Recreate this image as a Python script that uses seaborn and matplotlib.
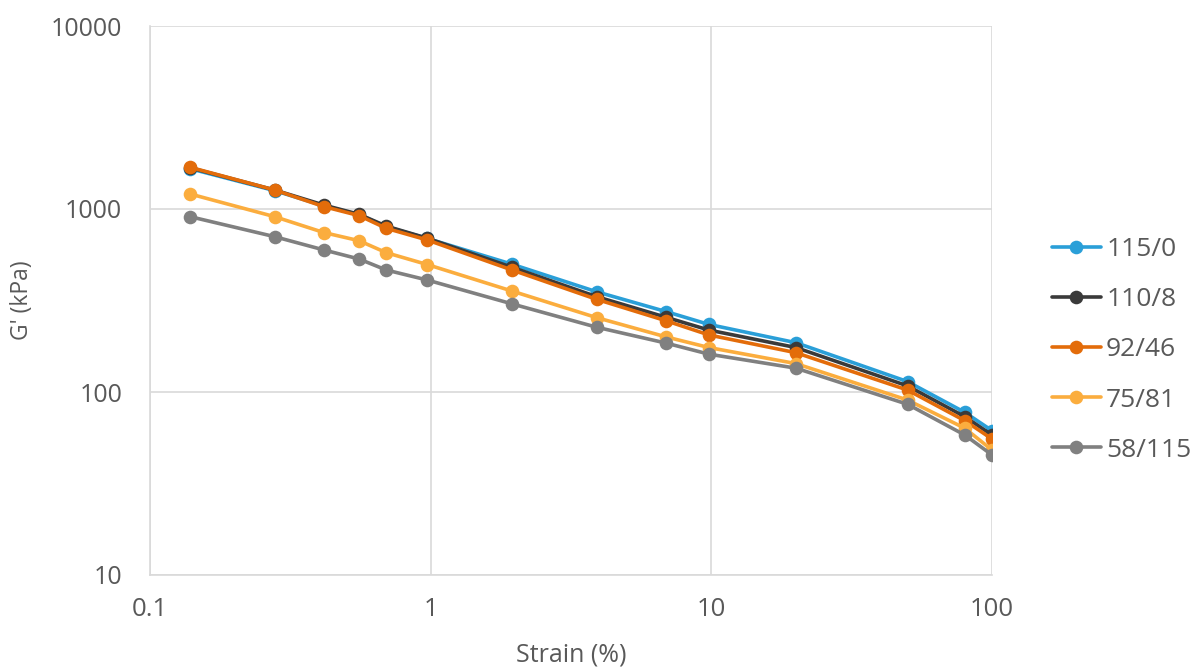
import numpy as np
import pandas as pd
import matplotlib
matplotlib.use("Agg")
import matplotlib.pyplot as plt
import matplotlib.ticker as mticker
import seaborn as sns

strain = [0.139, 0.278, 0.417, 0.556, 0.695, 0.973, 1.95, 3.9, 6.9, 9.8, 20, 50, 80, 100]

g_115_0 = [1660, 1260, 1040, 930, 800, 690, 499, 353, 275, 234, 186, 114, 77.4, 61.5]
g_110_8 = [1680, 1270, 1050, 935, 806, 692, 480, 332, 256, 218, 175, 108, 73.3, 58.2]
g_92_46 = [1690, 1270, 1030, 920, 784, 677, 464, 321, 245, 205, 164, 102.5, 69.7, 55.4]
g_75_81 = [1208, 908, 743, 671, 577, 497, 356, 255, 200, 175, 143, 90.4, 63.4, 48.2]
g_58_115 = [908, 706, 597, 533, 464, 409, 303, 226, 185, 161, 135, 85.7, 58.2, 45.3]

series_names = ["115/0", "110/8", "92/46", "75/81", "58/115"]
series_values = [g_115_0, g_110_8, g_92_46, g_75_81, g_58_115]
colors = ["#2A9FD8", "#3A3A3A", "#E36C0A", "#FBAD3E", "#808080"]

x_ticks = [0.1, 1, 10, 100]
x_tick_labels = ["0.1", "1", "10", "100"]
y_ticks = [10, 100, 1000, 10000]
y_tick_labels = ["10", "100", "1000", "10000"]

df = pd.DataFrame({
    "Strain": np.tile(strain, len(series_names)),
    "G": np.concatenate(series_values),
    "Series": np.repeat(series_names, len(strain)),
})

sns.set_style("white")
plt.rcParams["font.family"] = ["Open Sans", "DejaVu Sans"]
text_color = "#595959"
grid_color = "#D9D9D9"

fig = plt.figure(figsize=(11.94, 6.71), dpi=100)
ax = fig.add_axes([150 / 1194, 1 - 575 / 671, (992 - 150) / 1194, (575 - 26) / 671])

sns.lineplot(data=df, x="Strain", y="G", hue="Series", hue_order=series_names,
             palette=colors, marker="o", markersize=9.8, markeredgewidth=0,
             linewidth=2.6, ax=ax, legend=True, sort=False)

ax.set_xscale("log")
ax.set_yscale("log")
ax.set_xlim(0.1, 100)
ax.set_ylim(10, 10000)

ax.xaxis.set_major_locator(mticker.FixedLocator(x_ticks))
ax.xaxis.set_major_formatter(mticker.FixedFormatter(x_tick_labels))
ax.yaxis.set_major_locator(mticker.FixedLocator(y_ticks))
ax.yaxis.set_major_formatter(mticker.FixedFormatter(y_tick_labels))
ax.xaxis.set_minor_locator(mticker.LogLocator(base=10, subs=np.arange(2, 10)))
ax.yaxis.set_minor_locator(mticker.LogLocator(base=10, subs=np.arange(2, 10)))
ax.xaxis.set_minor_formatter(mticker.NullFormatter())
ax.yaxis.set_minor_formatter(mticker.NullFormatter())

ax.grid(True, which="major", color=grid_color, linewidth=1.2)
ax.set_axisbelow(True)
for side in ["top", "right"]:
    ax.spines[side].set_visible(False)
for side in ["left", "bottom"]:
    ax.spines[side].set_color(grid_color)
    ax.spines[side].set_linewidth(1.2)

ax.tick_params(axis="both", which="major", direction="inout", length=12, width=1.2,
               color=grid_color, labelcolor=text_color)
ax.tick_params(axis="y", which="major", labelsize=18, pad=14)
ax.tick_params(axis="x", which="major", labelsize=18.5, pad=10)
ax.tick_params(axis="both", which="minor", direction="in", length=6, width=1.0,
               color=grid_color)

ax.set_xlabel("Strain (%)", fontsize=18, color=text_color)
ax.set_ylabel("G' (kPa)", fontsize=16.5, color=text_color)
ax.xaxis.set_label_coords(0.5, (575 - 643) / 549)
ax.yaxis.set_label_coords((34 - 150) / 842, 0.5)

handles, labels = ax.get_legend_handles_labels()
leg = ax.legend(handles, labels, loc="center left",
                bbox_to_anchor=((1052 - 150) / 842, (575 - 350) / 549),
                frameon=False, fontsize=19, labelcolor=text_color,
                borderaxespad=0, borderpad=0,
                handlelength=1.85, handletextpad=0.2, labelspacing=0.95)

fig.savefig("out.png", dpi=100)
